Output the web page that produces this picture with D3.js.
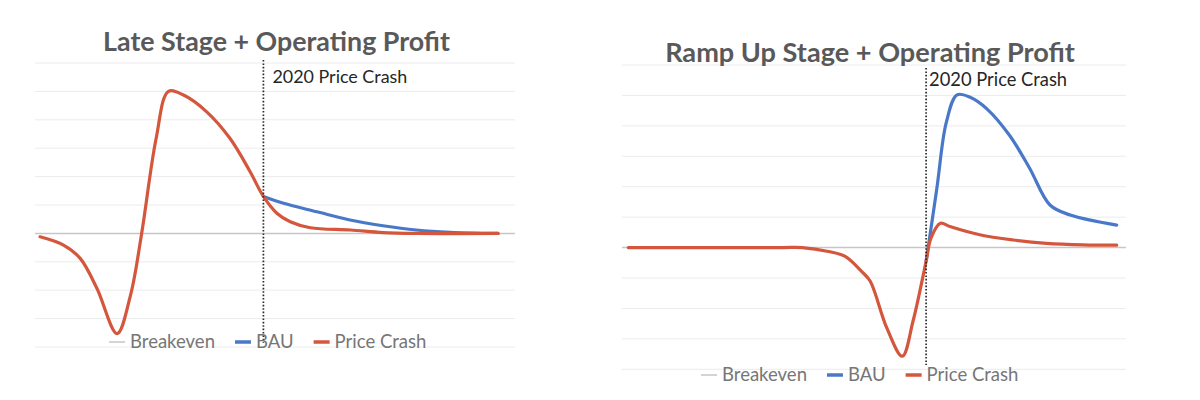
<!DOCTYPE html>
<html>
<head>
<meta charset="utf-8">
<script src="https://cdn.jsdelivr.net/npm/d3@7"></script>
<style>
  html, body { margin: 0; padding: 0; background: #ffffff; }
  svg { display: block; font-family: Lato, "Open Sans", sans-serif; }
</style>
</head>
<body>
<svg id="chart" width="1200" height="400"></svg>
<script>
// ---------------- data ----------------
const crashYear = 2020;
const crashLabel = "2020 Price Crash";
const legendLabels = ["Breakeven", "BAU", "Price Crash"];
const yTicks = [-4, -3, -2, -1, 0, 1, 2, 3, 4, 5, 6];
const breakevenValue = 0;

// Late Stage panel
const lateTitle = "Late Stage + Operating Profit";
const lateYearRange = [2000, 2041];
const lateCrashYears  = [2000, 2002.1, 2003.6, 2005.1, 2006.9, 2008.1, 2009.1, 2010.4, 2011.5, 2012.8, 2014.9, 2017, 2018.8, 2020, 2021.2, 2022.4, 2024.2, 2027.8, 2030.7, 2033.7, 2041];
const lateCrashValues = [-0.12, -0.41, -0.88, -1.94, -3.53, -2.18, 0, 3.35, 5.0, 4.88, 4.29, 3.35, 2.18, 1.3, 0.71, 0.41, 0.2, 0.12, 0.03, 0.0, 0.0];
const lateBauYears  = [2020, 2021.8, 2024.8, 2027.75, 2030.7, 2033.7, 2036.7, 2041];
const lateBauValues = [1.3, 1.06, 0.76, 0.47, 0.27, 0.12, 0.04, 0.0];

// Ramp Up panel
const rampTitle = "Ramp Up Stage + Operating Profit";
const rampYearRange = [1995, 2036];
const rampCrashYears  = [1995, 2000, 2005, 2008, 2009.6, 2011.8, 2013.2, 2014.6, 2015.3, 2016.7, 2018.0, 2018.9, 2020, 2020.4, 2021.2, 2022.0, 2024.5, 2027.3, 2030.1, 2033.2, 2036];
const rampCrashValues = [0, 0, 0, 0, 0, -0.13, -0.29, -0.79, -1.1, -2.64, -3.57, -2.42, -0.45, 0.3, 0.8, 0.69, 0.42, 0.25, 0.14, 0.09, 0.08];
const rampBauYears  = [2020, 2020.9, 2021.7, 2022.6, 2023.7, 2025.1, 2027.0, 2028.7, 2030.4, 2032.1, 2036];
const rampBauValues = [-0.45, 1.94, 4.12, 5.02, 4.94, 4.56, 3.69, 2.6, 1.4, 1.07, 0.74];

// ---------------- styles ----------------
const COLORS = { bau: "#4a78c9", crash: "#d4573d", breakeven: "#c6c6c6", grid: "#ececec",
                 title: "#595959", legend: "#767676", label: "#262626", dotted: "#2a2a2a" };

const svg = d3.select("#chart");

function fitFont(sel, targetWidth, baseSize) {
  sel.attr("font-size", baseSize);
  const w = sel.node().getComputedTextLength();
  sel.attr("font-size", (baseSize * targetWidth / w).toFixed(2));
}

function drawPanel(p) {
  const g = svg.append("g");
  const x = d3.scaleLinear().domain(p.yearRange).range(p.xRange);
  const y = d3.scaleLinear().domain([d3.min(yTicks), d3.max(yTicks)]).range([p.bottom, p.top]);

  // gridlines
  g.append("g").selectAll("line")
    .data(yTicks.filter(t => t !== breakevenValue))
    .join("line")
    .attr("x1", p.gridX[0]).attr("x2", p.gridX[1])
    .attr("y1", d => y(d)).attr("y2", d => y(d))
    .attr("stroke", COLORS.grid).attr("stroke-width", 1);

  // breakeven line
  g.append("line")
    .attr("x1", p.gridX[0]).attr("x2", p.gridX[1])
    .attr("y1", y(breakevenValue)).attr("y2", y(breakevenValue))
    .attr("stroke", COLORS.breakeven).attr("stroke-width", 1.5);

  const line = d3.line().x(d => x(d[0])).y(d => y(d[1])).curve(d3.curveCatmullRom.alpha(0.5));

  // BAU
  g.append("path")
    .datum(d3.zip(p.bauYears, p.bauValues))
    .attr("d", line).attr("fill", "none")
    .attr("stroke", COLORS.bau).attr("stroke-width", 3.2)
    .attr("stroke-linecap", "round").attr("stroke-linejoin", "round");

  // Price crash
  g.append("path")
    .datum(d3.zip(p.crashYears, p.crashValues))
    .attr("d", line).attr("fill", "none")
    .attr("stroke", COLORS.crash).attr("stroke-width", 3.2)
    .attr("stroke-linecap", "round").attr("stroke-linejoin", "round");

  // dotted crash marker
  g.append("line")
    .attr("x1", x(crashYear)).attr("x2", x(crashYear))
    .attr("y1", p.dotted[0]).attr("y2", p.dotted[1])
    .attr("stroke", COLORS.dotted).attr("stroke-width", 1.7)
    .attr("stroke-dasharray", "1.6,1.8");

  // crash label
  const lab = g.append("text")
    .attr("x", x(crashYear) + p.labelDx).attr("y", p.labelY)
    .attr("fill", COLORS.label).text(crashLabel);
  fitFont(lab, p.labelW, 18);

  // title
  const t = g.append("text")
    .attr("x", p.titleX).attr("y", p.titleY)
    .attr("text-anchor", "middle").attr("font-weight", 700)
    .attr("fill", COLORS.title).text(p.title);
  fitFont(t, p.titleW, 26);

  // legend
  const lg = g.append("g");
  const probe = lg.append("text").text(legendLabels[0]);
  fitFont(probe, 85, 20);
  const fs = probe.attr("font-size");
  probe.remove();
  const swatch = [{c: COLORS.breakeven, w: 1.5}, {c: COLORS.bau, w: 3.5}, {c: COLORS.crash, w: 3.5}];
  let cx = p.legendX;
  legendLabels.forEach((name, i) => {
    lg.append("line")
      .attr("x1", cx).attr("x2", cx + 16)
      .attr("y1", p.legendY).attr("y2", p.legendY)
      .attr("stroke", swatch[i].c).attr("stroke-width", swatch[i].w);
    const tx = lg.append("text")
      .attr("x", cx + 21).attr("y", p.legendY)
      .attr("dy", "0.35em").attr("font-size", fs)
      .attr("fill", COLORS.legend).text(name);
    cx += 21 + tx.node().getComputedTextLength() + 20;
  });
}

drawPanel({
  title: lateTitle, yearRange: lateYearRange, xRange: [40, 498],
  top: 63, bottom: 347, gridX: [35, 515],
  crashYears: lateCrashYears, crashValues: lateCrashValues,
  bauYears: lateBauYears, bauValues: lateBauValues,
  dotted: [60, 343], labelDx: 9, labelY: 83, labelW: 135,
  titleX: 276.5, titleY: 51, titleW: 347,
  legendX: 109, legendY: 342
});

drawPanel({
  title: rampTitle, yearRange: rampYearRange, xRange: [628.3, 1116.7],
  top: 65, bottom: 369.3, gridX: [622, 1126],
  crashYears: rampCrashYears, crashValues: rampCrashValues,
  bauYears: rampBauYears, bauValues: rampBauValues,
  dotted: [68, 365], labelDx: 3, labelY: 86, labelW: 138,
  titleX: 870, titleY: 62, titleW: 410,
  legendX: 701, legendY: 375
});
</script>
</body>
</html>
